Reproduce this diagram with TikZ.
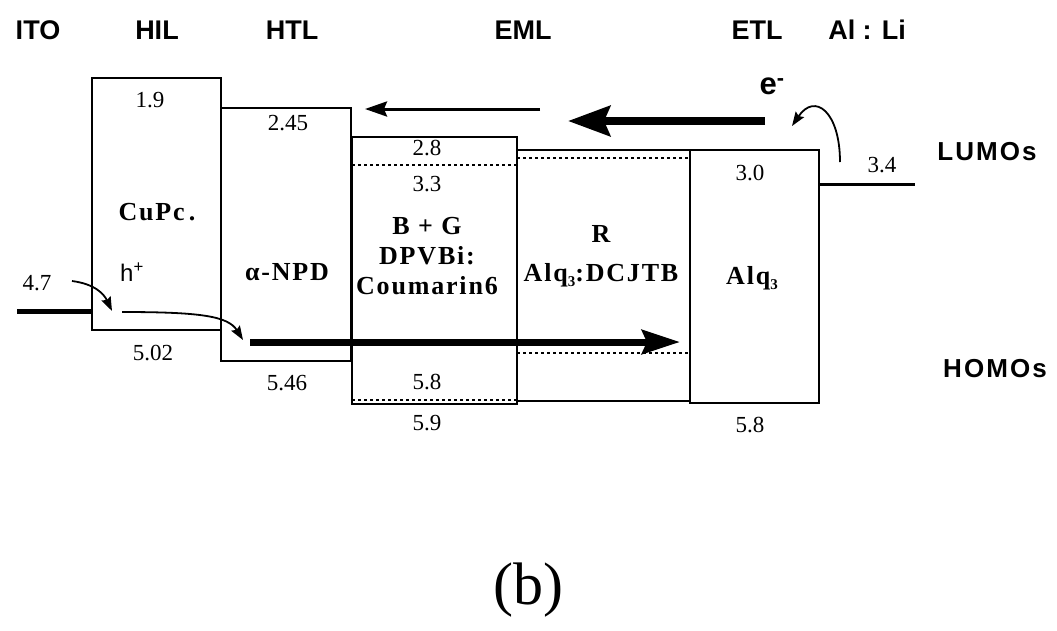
\documentclass[tikz,border=0pt]{standalone}
\usepackage{fontspec}
\setmainfont{Liberation Serif}
\newfontfamily\hdfont{Liberation Sans}
\newfontfamily\sdfont[LetterSpace=8]{Liberation Sans}
\newfontfamily\bxfont[LetterSpace=7]{Liberation Serif}
\newfontfamily\plainsans{Liberation Sans}
\usetikzlibrary{arrows.meta}
\newcommand{\subthree}{\raisebox{-0.45ex}{\fontsize{15}{15}\selectfont 3}}
\begin{document}
\begin{tikzpicture}[x=1pt,y=-1pt,
  layer/.style={draw, line width=1.8pt, inner sep=0pt, outer sep=0pt, anchor=north west},
  head/.style={font=\hdfont\bfseries\fontsize{27}{29}\selectfont, inner sep=0pt},
  side/.style={font=\sdfont\bfseries\fontsize{26}{28}\selectfont, inner sep=0pt},
  num/.style={font=\fontsize{23}{26}\selectfont, inner sep=0pt},
  mat/.style={font=\bxfont\bfseries\fontsize{26}{30}\selectfont, inner sep=0pt, align=center},
  dotline/.style={line width=1.8pt, dash pattern=on 2.5pt off 3.5pt},
  thinarrow/.style={line width=3pt, -{Stealth[length=22pt,width=15pt,inset=3pt]}},
  thickarrow/.style={line width=8pt, -{Stealth[length=42pt,width=30pt,inset=6pt]}},
  midarrow/.style={line width=7pt, -{Stealth[length=38pt,width=24pt,inset=5pt]}},
  curvearrow/.style={line width=1.8pt, -{Stealth[length=14pt,width=10pt,inset=2pt]}},
]
\useasboundingbox (0,0) rectangle (1057,630);

% layers
\node[layer, minimum width=129pt, minimum height=252pt] (hil) at (92,78) {};
\node[layer, minimum width=130pt, minimum height=253pt] (htl) at (221,108) {};
\node[layer, minimum width=165pt, minimum height=267pt] (emla) at (352,137) {};
\node[layer, minimum width=173pt, minimum height=251pt] (emlb) at (517,150) {};
\node[layer, minimum width=129pt, minimum height=253pt] (etl) at (690,150) {};

% electrodes
\coordinate (itoL) at (17,311);
\coordinate (itoR) at (92,311);
\draw[line width=5pt] (itoL) -- (itoR);
\coordinate (alL) at (819,184);
\coordinate (alR) at (915,184);
\draw[line width=3pt] (alL) -- (alR);

% dotted levels
\coordinate (d1a) at (352,165); \coordinate (d1b) at (517,165);
\coordinate (d2a) at (352,400); \coordinate (d2b) at (517,400);
\coordinate (d3a) at (517,158); \coordinate (d3b) at (690,158);
\coordinate (d4a) at (517,353); \coordinate (d4b) at (690,353);
\draw[dotline] (d1a) -- (d1b);
\draw[dotline] (d2a) -- (d2b);
\draw[dotline] (d3a) -- (d3b);
\draw[dotline] (d4a) -- (d4b);

% top headings
\node[head] (tITO) at (38,30) {ITO};
\node[head] (tHIL) at (157,30) {HIL};
\node[head] (tHTL) at (292,30) {HTL};
\node[head] (tEML) at (523,30) {EML};
\node[head] (tETL) at (757,30) {ETL};
\node[head] (tAL) at (867,30) {Al : Li};

% side labels
\node[side] (lumo) at (987,152) {LUMOs};
\node[side] (homo) at (995,369) {HOMOs};

% numbers
\node[num] (n19) at (150,100) {1.9};
\node[num] (n245) at (288,123) {2.45};
\node[num] (n28) at (427,148) {2.8};
\node[num] (n33) at (427,184) {3.3};
\node[num] (n30) at (750,173) {3.0};
\node[num] (n34) at (882,165) {3.4};
\node[num] (n47) at (37,283) {4.7};
\node[num] (n502) at (153,353) {5.02};
\node[num] (n546) at (287,383) {5.46};
\node[num] (n58a) at (427,382) {5.8};
\node[num] (n59) at (427,423) {5.9};
\node[num] (n58b) at (750,425) {5.8};

% materials
\node[mat] (cupc) at (157,212) {CuPc\,.};
\node[mat] (npd) at (287,272) {α-NPD};
\node[mat] (bg) at (427,256) {B + G\\DPVBi:\\Coumarin6};
\node[mat] (red) at (601,256) {R\\[9pt]Alq\subthree:DCJTB};
\node[mat] (alq) at (752,278) {Alq\subthree};

% carriers
\node[font=\plainsans\fontsize{24}{26}\selectfont, inner sep=0pt] (hplus) at (132,272) {h\textsuperscript{+}};
\node[font=\plainsans\bfseries\fontsize{31}{33}\selectfont, inner sep=0pt] (eminus) at (772,86) {e\textsuperscript{-}};

% arrows
\coordinate (a1s) at (540,109); \coordinate (a1e) at (365,109);
\draw[thinarrow] (a1s) -- (a1e);
\coordinate (a2s) at (765,121); \coordinate (a2e) at (568,121);
\draw[thickarrow] (a2s) -- (a2e);
\coordinate (a3s) at (250,342); \coordinate (a3e) at (680,342);
\draw[midarrow] (a3s) -- (a3e);

\coordinate (c1s) at (72,281); \coordinate (c1e) at (112,311);
\draw[curvearrow] (c1s) .. controls (95,284) and (104,294) .. (c1e);
\coordinate (c2s) at (122,312); \coordinate (c2e) at (243,340);
\draw[curvearrow] (c2s) .. controls (200,312) and (228,316) .. (c2e);
\coordinate (c3s) at (840,162); \coordinate (c3e) at (792,126);
\draw[curvearrow] (c3s) .. controls (840,112) and (815,92) .. (c3e);

% caption
\node[font=\fontsize{60}{64}\selectfont, inner sep=0pt] (cap) at (528,590) {(b)};
\end{tikzpicture}
\end{document}
